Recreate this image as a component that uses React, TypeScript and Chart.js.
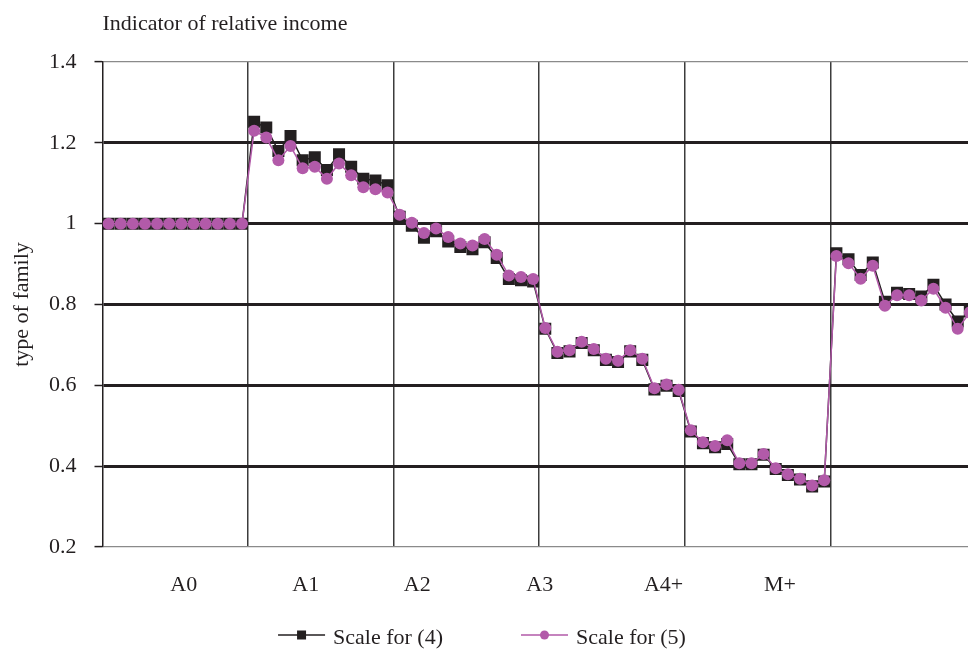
import React, { useEffect, useRef } from 'react';
import { Chart, registerables } from 'chart.js';

Chart.register(...registerables);

const FONT = "'Liberation Serif', 'Times New Roman', serif";
const TEXT_COLOR = '#231f20';

const TITLE = 'Indicator of relative income';
const Y_TITLE = 'type of family';
const SERIES_LABELS = ['Scale for (4)', 'Scale for (5)'];
const SERIES_COLORS = ['#231f20', '#b25aa9'];

// category labels and where they sit along the point index axis
const GROUP_LABELS = ['A0', 'A1', 'A2', 'A3', 'A4+', 'M+'];
const GROUP_LABEL_POS = [6.2, 16.25, 25.45, 35.55, 45.75, 55.35];
// vertical separators between groups of 12 points
const GROUP_BOUNDARIES = [11.5, 23.5, 35.5, 47.5, 59.5];

const X_MIN = -0.5;
const X_MAX = 70.85;
const Y_MIN = 0.2;
const Y_MAX = 1.4;
const Y_STEP = 0.2;

// Scale for (4) — squares
const scale4 = [
  1, 1, 1, 1, 1, 1, 1, 1, 1, 1, 1, 1,
  1.252, 1.238, 1.18, 1.217, 1.157, 1.164, 1.133, 1.172, 1.141, 1.111, 1.107, 1.095,
  1.017, 0.995, 0.965, 0.981, 0.956, 0.942, 0.937, 0.954, 0.915, 0.863, 0.86, 0.857,
  0.74, 0.68, 0.684, 0.705, 0.687, 0.663, 0.658, 0.684, 0.663, 0.59, 0.599, 0.586,
  0.486, 0.457, 0.447, 0.455, 0.405, 0.405, 0.428, 0.393, 0.378, 0.367, 0.35, 0.362,
  0.927, 0.912, 0.873, 0.904, 0.807, 0.829, 0.826, 0.82, 0.849, 0.8, 0.758, 0.783,
];

// Scale for (5) — circles
const scale5 = [
  1, 1, 1, 1, 1, 1, 1, 1, 1, 1, 1, 1,
  1.23, 1.213, 1.157, 1.192, 1.137, 1.141, 1.111, 1.149, 1.12, 1.09, 1.085, 1.077,
  1.022, 1.002, 0.977, 0.988, 0.967, 0.951, 0.946, 0.962, 0.923, 0.872, 0.868, 0.863,
  0.742, 0.683, 0.687, 0.708, 0.69, 0.666, 0.661, 0.687, 0.666, 0.593, 0.602, 0.589,
  0.489, 0.459, 0.45, 0.464, 0.407, 0.407, 0.43, 0.395, 0.38, 0.369, 0.352, 0.365,
  0.92, 0.902, 0.864, 0.896, 0.797, 0.823, 0.823, 0.81, 0.839, 0.792, 0.74, 0.78,
];

const isEdge = (v: number) => Math.abs(v - Y_MIN) < 1e-6 || Math.abs(v - Y_MAX) < 1e-6;

const overlayPlugin = {
  id: 'overlay',
  afterDraw(chart: any) {
    const ctx = chart.ctx as CanvasRenderingContext2D;
    ctx.save();
    ctx.font = `22px ${FONT}`;
    ctx.fillStyle = TEXT_COLOR;
    ctx.textAlign = 'left';
    ctx.textBaseline = 'alphabetic';
    ctx.fillText(TITLE, chart.chartArea.left, 30);

    // legend: line + marker + text
    const lineLen = 47;
    const textGap = 8;
    const itemGap = 78;
    const items = chart.data.datasets.map((ds: any) => ({
      text: ds.label as string,
      color: ds.borderColor as string,
      style: ds.pointStyle as string,
      w: ctx.measureText(ds.label).width,
    }));
    const total =
      items.reduce((s: number, it: any) => s + lineLen + textGap + it.w, 0) + itemGap * (items.length - 1);
    let x = chart.width / 2 - total / 2 - 2;
    const y = 635;
    items.forEach((it: any) => {
      ctx.strokeStyle = it.color;
      ctx.lineWidth = 1.5;
      ctx.beginPath();
      ctx.moveTo(x, y);
      ctx.lineTo(x + lineLen, y);
      ctx.stroke();
      ctx.fillStyle = it.color;
      const cx = x + lineLen / 2;
      if (it.style === 'rect') {
        ctx.fillRect(cx - 4.5, y - 4.5, 9, 9);
      } else {
        ctx.beginPath();
        ctx.arc(cx, y, 4.5, 0, Math.PI * 2);
        ctx.fill();
      }
      ctx.fillStyle = TEXT_COLOR;
      ctx.fillText(it.text, x + lineLen + textGap, 644);
      x += lineLen + textGap + it.w + itemGap;
    });
    ctx.restore();
  },
};

export default function App() {
  const ref = useRef<HTMLCanvasElement>(null);

  useEffect(() => {
    document.body.style.margin = '0';
    const canvas = ref.current;
    if (!canvas) return;
    const chart = new Chart(canvas, {
      type: 'line',
      data: {
        datasets: [
          {
            label: SERIES_LABELS[0],
            data: scale4.map((y, i) => ({ x: i, y })),
            borderColor: SERIES_COLORS[0],
            backgroundColor: SERIES_COLORS[0],
            borderWidth: 1.5,
            pointStyle: 'rect',
            pointRadius: 8.5,
            pointBorderWidth: 0,
            tension: 0,
            order: 1,
          },
          {
            label: SERIES_LABELS[1],
            data: scale5.map((y, i) => ({ x: i, y })),
            borderColor: SERIES_COLORS[1],
            backgroundColor: SERIES_COLORS[1],
            borderWidth: 1.5,
            pointStyle: 'circle',
            pointRadius: 6,
            pointBorderWidth: 0,
            tension: 0,
            order: 0,
          },
        ],
      },
      options: {
        responsive: false,
        animation: false,
        events: [],
        layout: { autoPadding: false, padding: { top: 62, left: 0, right: 0, bottom: 0 } },
        plugins: {
          legend: { display: false },
          tooltip: { enabled: false },
          title: { display: false },
        },
        scales: {
          x: {
            type: 'linear',
            min: X_MIN,
            max: X_MAX,
            bounds: 'data',
            afterBuildTicks: (s: any) => {
              s.ticks = GROUP_BOUNDARIES.map((v) => ({ value: v }));
            },
            afterFit: (s: any) => {
              s.height = 0;
            },
            ticks: { display: false },
            grid: { drawTicks: false, color: '#3c3c3c', lineWidth: 1.5 },
            border: { display: false },
          },
          xLabels: {
            type: 'linear',
            position: 'bottom',
            min: X_MIN,
            max: X_MAX,
            bounds: 'data',
            afterBuildTicks: (s: any) => {
              s.ticks = GROUP_LABEL_POS.map((v) => ({ value: v }));
            },
            afterFit: (s: any) => {
              s.height = 111;
            },
            ticks: {
              autoSkip: false,
              maxRotation: 0,
              padding: 25,
              color: TEXT_COLOR,
              font: { family: FONT, size: 22 },
              callback: (_v: any, i: number) => GROUP_LABELS[i],
            },
            grid: { display: false, drawTicks: false },
            border: { display: false },
          },
          y: {
            type: 'linear',
            min: Y_MIN,
            max: Y_MAX,
            ticks: {
              stepSize: Y_STEP,
              padding: 18,
              color: TEXT_COLOR,
              font: { family: FONT, size: 22 },
              callback: (v: any) => String(Number(Number(v).toFixed(2))),
            },
            grid: {
              color: (c: any) => (isEdge(c.tick.value) ? '#8a8a8a' : '#231f20'),
              lineWidth: (c: any) => (isEdge(c.tick.value) ? 1.2 : 3),
              tickColor: '#231f20',
              tickLength: 8,
              tickWidth: 1.5,
            },
            border: { display: true, color: '#231f20', width: 1.5 },
            title: {
              display: true,
              text: Y_TITLE,
              color: TEXT_COLOR,
              font: { family: FONT, size: 22 },
              padding: { top: 9, bottom: 0 },
            },
            afterFit: (s: any) => {
              s.width = 102.5;
            },
          },
        },
      },
      plugins: [overlayPlugin],
    });
    return () => chart.destroy();
  }, []);

  return (
    <div style={{ width: 968, height: 658, overflow: 'hidden' }}>
      <canvas ref={ref} width={968} height={658} style={{ display: 'block' }} />
    </div>
  );
}
